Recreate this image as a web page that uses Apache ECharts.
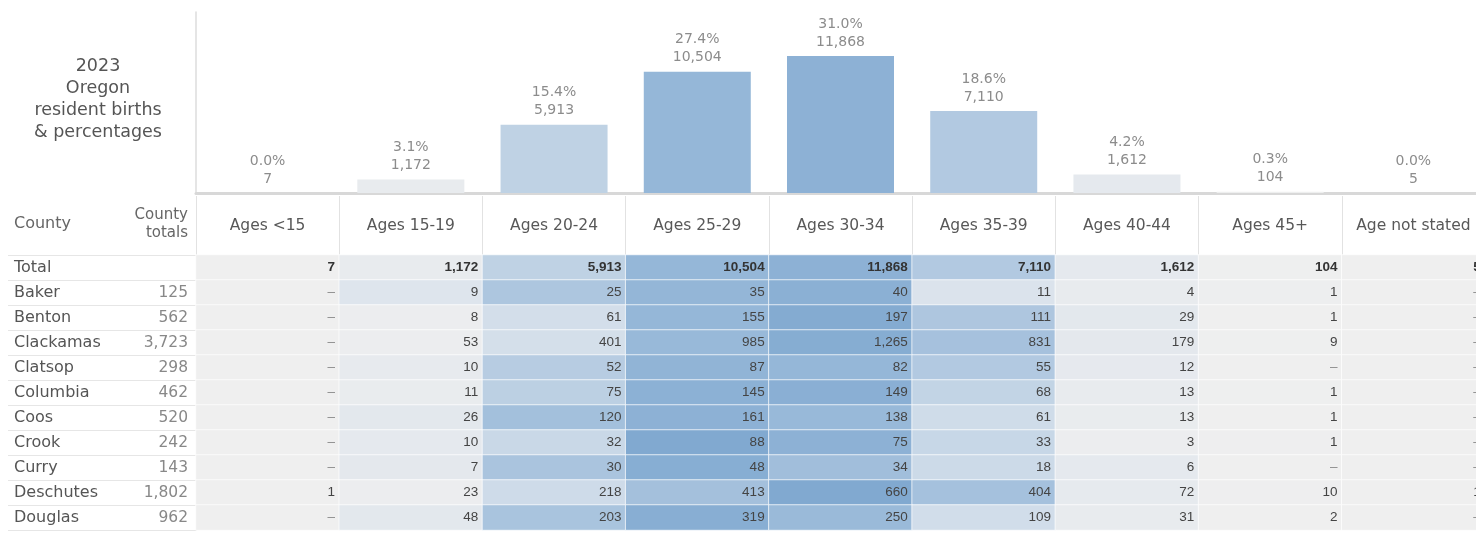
<!DOCTYPE html>
<html><head><meta charset="utf-8">
<script src="https://cdn.jsdelivr.net/npm/echarts@6/dist/echarts.min.js"></script>
<style>html,body{margin:0;padding:0;background:#fff}#c{width:1476px;height:536px}</style>
</head><body><div id="c"></div>
<script>
const ageGroups = ['Ages <15','Ages 15-19','Ages 20-24','Ages 25-29','Ages 30-34','Ages 35-39','Ages 40-44','Ages 45+','Age not stated'];
const counties = ['Total','Baker','Benton','Clackamas','Clatsop','Columbia','Coos','Crook','Curry','Deschutes','Douglas'];
const countyTotals = [null,125,562,3723,298,462,520,242,143,1802,962];
const rowTotal     = [7,1172,5913,10504,11868,7110,1612,104,5];
const rowBaker     = [0,9,25,35,40,11,4,1,0];
const rowBenton    = [0,8,61,155,197,111,29,1,0];
const rowClackamas = [0,53,401,985,1265,831,179,9,0];
const rowClatsop   = [0,10,52,87,82,55,12,0,0];
const rowColumbia  = [0,11,75,145,149,68,13,1,0];
const rowCoos      = [0,26,120,161,138,61,13,1,0];
const rowCrook     = [0,10,32,88,75,33,3,1,0];
const rowCurry     = [0,7,30,48,34,18,6,0,0];
const rowDeschutes = [1,23,218,413,660,404,72,10,1];
const rowDouglas   = [0,48,203,319,250,109,31,2,0];
const rows = [rowTotal,rowBaker,rowBenton,rowClackamas,rowClatsop,rowColumbia,rowCoos,rowCrook,rowCurry,rowDeschutes,rowDouglas];

const fmt = v => v.toLocaleString('en-US');
const sum = a => a.reduce((s,v)=>s+v,0);
const stateSum = sum(rowTotal);
const barData = rowTotal.map((v,i)=>[i, v, v/stateSum]);
const cellData = [];
rows.forEach((r, ri) => {
  const s = sum(r);
  r.forEach((v, ci) => {
    const item = {value:[ci, ri, v/s, v]};
    if (ri === 0) item.label = {fontWeight:'bold', color:'#333'};
    cellData.push(item);
  });
});
const totalLabels = countyTotals.map(v => v == null ? '' : fmt(v));

const NUM_FONT = '"Liberation Sans",Arial,sans-serif';
const TXT_FONT = '"DejaVu Sans",Verdana,sans-serif';
const W = 1289;

const chart = echarts.init(document.getElementById('c'));
chart.setOption({
  animation:false,
  grid:[
    {left:196, top:12, width:W, height:181, outerBoundsMode:'none', containLabel:false},
    {left:196, top:255, width:W, height:275, outerBoundsMode:'none', containLabel:false},
    {left:8, top:255, width:188, height:275, outerBoundsMode:'none', containLabel:false}
  ],
  xAxis:[
    {gridIndex:0, type:'category', data:ageGroups, axisLine:{lineStyle:{color:'#d8d8d8', width:3}}, axisTick:{show:false}, axisLabel:{show:false}},
    {gridIndex:1, type:'category', position:'top', data:ageGroups,
      axisLine:{lineStyle:{color:'#dcdcdc'}},
      axisTick:{show:true, length:59, interval:0, lineStyle:{color:'#e2e2e2'}},
      axisLabel:{margin:21, interval:0, fontFamily:TXT_FONT, fontSize:15.5, color:'#585858'},
      splitLine:{show:true, interval:0, lineStyle:{color:'#e4e4e4'}}},
    {gridIndex:2, type:'value', show:false}
  ],
  yAxis:[
    {gridIndex:0, type:'value', min:0, max:15680, axisLine:{show:true, lineStyle:{color:'#dcdcdc', width:1.5}}, axisLabel:{show:false}, splitLine:{show:false}, axisTick:{show:false}},
    {gridIndex:1, type:'category', inverse:true, data:totalLabels,
      axisLine:{show:true, lineStyle:{color:'#dcdcdc'}}, axisTick:{show:false},
      axisLabel:{margin:8, interval:0, fontFamily:TXT_FONT, fontSize:15.5, color:'#888'}, splitLine:{show:false}},
    {gridIndex:2, type:'category', inverse:true, data:counties,
      axisLine:{show:false}, axisTick:{show:false},
      axisLabel:{inside:true, margin:6, interval:0, fontFamily:TXT_FONT, fontSize:16, color:'#555'},
      splitLine:{show:true, interval:0, lineStyle:{color:'#e6e6e6'}}}
  ],
  visualMap:{show:false, type:'continuous', min:0, max:0.38, dimension:2, seriesIndex:[0,1],
    inRange:{color:['#efefef','#d9e2ec','#b0c8e0','#92b5d7','#7ea7cf']}},
  graphic:[
    {type:'text', x:98, y:55, style:{text:'2023\nOregon\nresident births\n& percentages', align:'center', textAlign:'center', verticalAlign:'top', fontFamily:TXT_FONT, fontSize:17.5, lineHeight:22, fill:'#555'}},
    {type:'text', x:14, y:224, style:{text:'County', align:'left', verticalAlign:'middle', textVerticalAlign:'middle', fontFamily:TXT_FONT, fontSize:16, fill:'#666'}},
    {type:'text', x:188, y:224, style:{text:'County\ntotals', align:'right', textAlign:'right', verticalAlign:'middle', textVerticalAlign:'middle', fontFamily:TXT_FONT, fontSize:15, lineHeight:18, fill:'#666'}}
  ],
  series:[
    {type:'bar', xAxisIndex:0, yAxisIndex:0, data:barData, encode:{x:0, y:1}, barWidth:107,
      label:{show:true, position:'top', distance:5, formatter:p => (p.value[2]*100).toFixed(1)+'%\n'+fmt(p.value[1]),
        fontFamily:TXT_FONT, fontSize:14, lineHeight:18, color:'#8c8c8c'}},
    {type:'heatmap', xAxisIndex:1, yAxisIndex:1, data:cellData,
      itemStyle:{borderColor:'rgba(255,255,255,0.7)', borderWidth:1},
      label:{show:true, position:'insideRight', distance:5,
        formatter:p => p.value[3] ? fmt(p.value[3]) : '{d|–}',
        rich:{d:{color:'#888', fontFamily:NUM_FONT, fontSize:13.5}},
        fontFamily:NUM_FONT, fontSize:13.5, color:'#444'},
      emphasis:{disabled:true}}
  ]
});
</script></body></html>
